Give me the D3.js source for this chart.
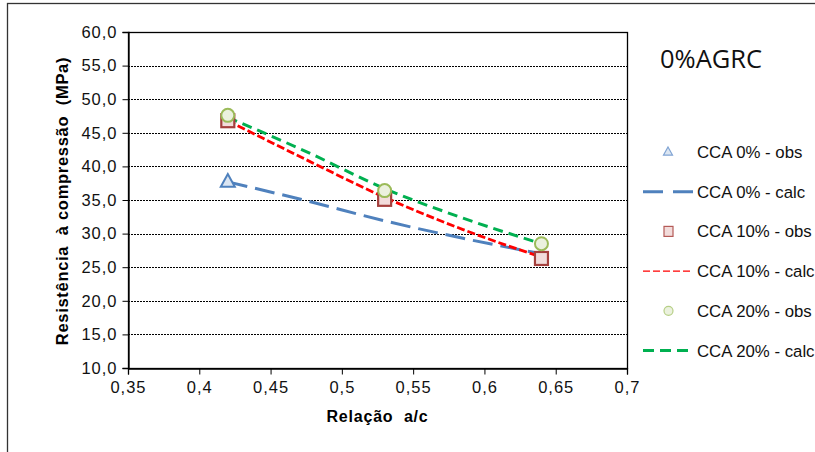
<!DOCTYPE html>
<html><head><meta charset="utf-8">
<script src="https://cdn.jsdelivr.net/npm/d3@7"></script>
<style>
body{margin:0;background:#fff;}
svg{display:block;font-family:"Liberation Sans",Arial,sans-serif;}
</style></head><body>
<svg id="c" width="815" height="452"></svg>
<script>
const title = "0%AGRC";
const xTitle = "Relação  a/c";
const yTitle = "Resistência  à compressão  (MPa)";
const xTicks = [0.35, 0.4, 0.45, 0.5, 0.55, 0.6, 0.65, 0.7];
const xTickLabels = ["0,35","0,4","0,45","0,5","0,55","0,6","0,65","0,7"];
const yTicks = [10,15,20,25,30,35,40,45,50,55,60];
const yTickLabels = ["10,0","15,0","20,0","25,0","30,0","35,0","40,0","45,0","50,0","55,0","60,0"];

const obsX0 = [0.42];
const cca0Obs = [37.7];
const obsX = [0.42, 0.53, 0.64];
const cca10Obs = [46.8, 35.1, 26.3];
const cca20Obs = [47.6, 36.4, 28.5];

const calcX = [0.42, 0.475, 0.53, 0.585, 0.64];
const cca0Calc = [37.7, 34.9, 31.9, 29.3, 27.0];
const cca10Calc = [46.8, 41.0, 35.4, 30.6, 26.5];
const cca20Calc = [47.3, 42.2, 36.7, 32.3, 28.5];

const legendLabels = ["CCA 0% - obs","CCA 0% - calc","CCA 10% - obs","CCA 10% - calc","CCA 20% - obs","CCA 20% - calc"];

const svg = d3.select("#c");
const L=128, R=627, T=32, B=368;
const x = d3.scaleLinear().domain([0.35,0.7]).range([L,R]);
const y = d3.scaleLinear().domain([10,60]).range([B,T]);

// outer frame
svg.append("rect").attr("x",7.5).attr("y",3.5).attr("width",830).attr("height",470)
  .attr("fill","none").attr("stroke","#333").attr("stroke-width",1.3);

// gridlines
svg.append("g").selectAll("line").data(yTicks.filter(v=>v>10&&v<60)).join("line")
  .attr("x1",L).attr("x2",R).attr("y1",d=>Math.round(y(d))+0.5).attr("y2",d=>Math.round(y(d))+0.5)
  .attr("stroke","#000").attr("stroke-width",1).attr("stroke-dasharray","2,1");

// plot border
svg.append("rect").attr("x",L+0.5).attr("y",T+0.5).attr("width",R-L).attr("height",B-T)
  .attr("fill","none").attr("stroke","#000").attr("stroke-width",1.3);

// axes
const yAxis = d3.axisLeft(y).tickValues(yTicks).tickSize(6).tickPadding(5)
  .tickFormat((d,i)=>yTickLabels[i]);
const gy = svg.append("g").attr("transform",`translate(${L+0.5},0)`).call(yAxis);
gy.select(".domain").attr("stroke","#000").attr("stroke-width",1.3);
gy.selectAll("text").attr("font-size",16.5).attr("fill","#111").style("letter-spacing","1px")
  .attr("font-family","'Liberation Sans',Arial,sans-serif");

const xAxis = d3.axisBottom(x).tickValues(xTicks).tickSize(6).tickPadding(7)
  .tickFormat((d,i)=>xTickLabels[i]);
const gx = svg.append("g").attr("transform",`translate(0,${B+0.5})`).call(xAxis);
gx.select(".domain").attr("stroke","#000").attr("stroke-width",1.3);
gx.selectAll("text").attr("font-size",16.5).attr("fill","#111").style("letter-spacing","1px")
  .attr("font-family","'Liberation Sans',Arial,sans-serif");

// axis titles
svg.append("text").attr("x",(L+R)/2).attr("y",422).attr("text-anchor","middle")
  .attr("font-size",16).attr("font-weight","bold").style("letter-spacing","0.8px")
  .style("white-space","pre").text(xTitle);
svg.append("text").attr("transform",`translate(68,${(T+B)/2+1}) rotate(-90)`).attr("text-anchor","middle")
  .attr("font-size",16.5).attr("font-weight","bold").style("letter-spacing","0.7px")
  .style("white-space","pre").text(yTitle);

// title
svg.append("text").attr("x",660).attr("y",68).attr("font-size",25.5)
  .attr("font-family","'Open Sans','Liberation Sans',sans-serif").attr("fill","#111").text(title);

// lines
const line = (xs, ys) => d3.line().x((d,i)=>x(xs[i])).y(d=>y(d)).curve(d3.curveMonotoneX)(ys);
const styles = {
  c0:{stroke:"#4F81BD", w:3, dash:"20,8"},
  c10:{stroke:"#FF0000", w:2.8, dash:"8,3"},
  c20:{stroke:"#00B050", w:3, dash:"10,6"}
};
[[cca0Calc,styles.c0],[cca10Calc,styles.c10],[cca20Calc,styles.c20]].forEach(([ys,s])=>{
  svg.append("path").attr("d",line(calcX,ys)).attr("fill","none").attr("stroke",s.stroke)
    .attr("stroke-width",s.w).attr("stroke-dasharray",s.dash);
});

// markers
const tri = (cx,cy,sz)=>{const h=sz*0.9;return `M${cx},${cy-h*0.62}L${cx+sz/2},${cy+h*0.38}L${cx-sz/2},${cy+h*0.38}Z`;};
svg.append("g").selectAll("path").data(cca0Obs).join("path")
  .attr("d",(d,i)=>tri(x(obsX0[i]),y(d),14)).attr("fill","#DCE6F2").attr("stroke","#4F81BD").attr("stroke-width",2);
svg.append("g").selectAll("rect").data(cca10Obs).join("rect")
  .attr("x",(d,i)=>x(obsX[i])-6.5).attr("y",d=>y(d)-6.5).attr("width",13).attr("height",13)
  .attr("fill","#F2DCDB").attr("stroke","#A5403D").attr("stroke-width",2.2);
svg.append("g").selectAll("circle").data(cca20Obs).join("circle")
  .attr("cx",(d,i)=>x(obsX[i])).attr("cy",d=>y(d)).attr("r",6.5)
  .attr("fill","#EBF1DE").attr("stroke","#9BBB59").attr("stroke-width",2);

// legend
const ly0 = 152, ldy = 39.7;
const lg = svg.append("g");
legendLabels.forEach((t,i)=>{
  const yy = ly0 + i*ldy;
  lg.append("text").attr("x",697).attr("y",yy+6).attr("font-size",16.8).attr("fill","#111").text(t);
});
lg.append("path").attr("d",tri(668,ly0,9)).attr("fill","#DCE6F2").attr("stroke","#7FA3D3").attr("stroke-width",1.2);
lg.append("rect").attr("x",664).attr("y",ly0+2*ldy-5).attr("width",9).attr("height",10)
  .attr("fill","#F2DCDB").attr("stroke","#B55A57").attr("stroke-width",1.2);
lg.append("circle").attr("cx",668.5).attr("cy",ly0+4*ldy).attr("r",4.5)
  .attr("fill","#EBF1DE").attr("stroke","#B6CF86").attr("stroke-width",1.2);
[[1,styles.c0.stroke,3,"20,10"],[3,"#FF0000",1.4,"7,3"],[5,"#00B050",3,"11,6"]].forEach(([i,c,w,d])=>{
  lg.append("line").attr("x1",643).attr("x2",693).attr("y1",ly0+i*ldy).attr("y2",ly0+i*ldy)
    .attr("stroke",c).attr("stroke-width",w).attr("stroke-dasharray",d);
});
</script>
</body></html>
